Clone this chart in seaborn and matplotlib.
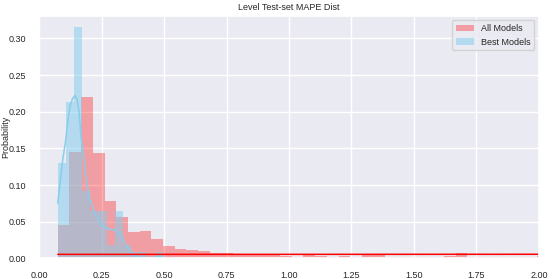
import numpy as np
import pandas as pd
import matplotlib
matplotlib.use("Agg")
import matplotlib.pyplot as plt
import seaborn as sns

sns.set_theme(style="darkgrid")
plt.rcParams['font.family'] = ['Liberation Sans', 'DejaVu Sans']

title = "Level Test-set MAPE Dist"
labels = ["All Models", "Best Models"]

# All models: histogram bin probabilities (bin start 0.075, width ~0.0468)
all_start, all_width = 0.075, 0.0468
all_probs = [0.045, 0.1455, 0.2196, 0.143, 0.0786, 0.0568, 0.0363, 0.0377, 0.0263,
             0.017, 0.0127, 0.0113, 0.0100, 0.0077, 0.0077, 0.0045, 0.0045, 0.0055,
             0.0045, 0.0027, 0.0014, 0.0055, 0.0030, 0.0014, 0.0030, 0.0020, 0.0040,
             0.0040, 0.0014, 0.0020, 0.0014, 0.0014, 0.0020, 0.0034, 0.0068, 0.0014,
             0.0014, 0.0020, 0.0020, 0.0020, 0.0014, 0.0030]
# All models KDE (nearly flat)
all_kde_x = [0.075, 1.0, 2.0]
all_kde_y = [0.0054, 0.0054, 0.0055]

# Best models: histogram bin probabilities (bin start 0.075, width ~0.0325)
best_start, best_width = 0.075, 0.0325
best_probs = [0.130, 0.2135, 0.315, 0.092, 0.0645, 0.0645, 0.018, 0.0645, 0.018,
              0.009, 0.009, 0.0, 0.009]
# Best models KDE curve
best_kde_x = [0.075, 0.085, 0.095, 0.108, 0.116, 0.124, 0.134, 0.144, 0.153, 0.160,
              0.168, 0.179, 0.191, 0.204, 0.224, 0.251, 0.277, 0.304, 0.331, 0.351,
              0.378, 0.404, 0.431, 0.464, 0.497]
best_kde_y = [0.075, 0.105, 0.135, 0.164, 0.190, 0.207, 0.218, 0.222, 0.216, 0.200,
              0.165, 0.138, 0.102, 0.080, 0.061, 0.045, 0.040, 0.0386, 0.030, 0.0158,
              0.0045, 0.0013, 0.0008, 0.0015, 0.003]

all_edges = (all_start + all_width * np.arange(len(all_probs) + 1)).tolist()
best_edges = (best_start + best_width * np.arange(len(best_probs) + 1)).tolist()
all_centers = [(a + b) / 2 for a, b in zip(all_edges[:-1], all_edges[1:])]
best_centers = [(a + b) / 2 for a, b in zip(best_edges[:-1], best_edges[1:])]
df_all = pd.DataFrame({"x": all_centers, "w": all_probs})
df_best = pd.DataFrame({"x": best_centers, "w": best_probs})

fig, ax = plt.subplots(figsize=(5.52, 2.79), dpi=100)
fig.subplots_adjust(left=0.0707, right=0.9764, bottom=0.0742, top=0.943)

sns.histplot(data=df_all, x="x", weights="w", bins=all_edges, color="red",
             alpha=0.32, linewidth=0, label=labels[0], ax=ax)
sns.histplot(data=df_best, x="x", weights="w", bins=best_edges, color="skyblue",
             alpha=0.55, linewidth=0, label=labels[1], ax=ax)
sns.lineplot(x=best_kde_x, y=best_kde_y, color="skyblue", lw=1.1, ax=ax, sort=False)
sns.lineplot(x=all_kde_x, y=all_kde_y, color="red", lw=1.1, ax=ax, sort=False)

ax.set_xlim(0, 2.0)
ax.set_ylim(0, 0.3307)
ax.set_xticks([0, 0.25, 0.5, 0.75, 1.0, 1.25, 1.5, 1.75, 2.0])
ax.set_yticks([0, 0.05, 0.10, 0.15, 0.20, 0.25, 0.30])
ax.set_xticklabels(["0.00", "0.25", "0.50", "0.75", "1.00", "1.25", "1.50", "1.75", "2.00"])
ax.set_yticklabels(["0.00", "0.05", "0.10", "0.15", "0.20", "0.25", "0.30"])
ax.tick_params(labelsize=6.5)
ax.set_xlabel("")
ax.set_ylabel("Probability", fontsize=6.5)
ax.yaxis.set_label_coords(-0.058, 0.5)
ax.set_title(title, fontsize=6.5, pad=4)
ax.legend(loc="upper right", fontsize=6.5)

fig.savefig("out.png", dpi=100)
